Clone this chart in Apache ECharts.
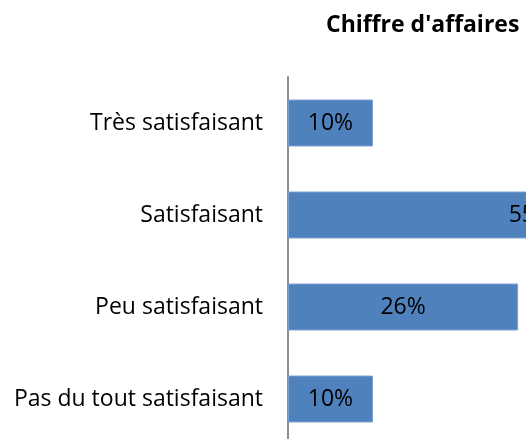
<!DOCTYPE html>
<html lang="fr">
<head>
    <meta charset="UTF-8">
    <title>Chiffre d'affaires</title>
    <script src="https://cdn.jsdelivr.net/npm/echarts@6/dist/echarts.min.js"></script>
    <style>
        html, body { margin: 0; padding: 0; background: #fff; overflow: hidden; }
        /* le graphique d'origine est plus large que la fenêtre : il est coupé à droite et en bas */
        #chart { width: 819px; height: 445px; }
    </style>
</head>
<body>
<div id="chart"></div>
<script type="text/javascript">
    // categories, du bas vers le haut (axe y de type category)
    var categories = ['Pas du tout satisfaisant', 'Peu satisfaisant', 'Satisfaisant', 'Très satisfaisant'];
    // parts en %
    var values = [9.6, 26, 55, 9.6];

    var myChart = echarts.init(document.getElementById('chart'));
    myChart.setOption({
        animation: false,
        title: {
            text: "Chiffre d'affaires",
            left: 321,
            top: 9,
            textStyle: {
                fontFamily: 'Open Sans',
                fontWeight: 'bold',
                fontSize: 23,
                color: '#000'
            }
        },
        grid: {
            left: 288,
            right: 0,
            top: 77,
            bottom: 0,
            containLabel: false
        },
        xAxis: {
            type: 'value',
            min: 0,
            max: 60,
            show: false
        },
        yAxis: {
            type: 'category',
            data: categories,
            axisLine: {lineStyle: {color: '#8c8c8c', width: 2}},
            axisTick: {show: false},
            axisLabel: {
                margin: 25,
                fontFamily: 'Open Sans',
                fontSize: 23,
                color: '#000'
            }
        },
        series: [{
            type: 'bar',
            data: values,
            barCategoryGap: '49%',
            itemStyle: {color: '#4F81BD', borderColor: '#7A9FD0', borderWidth: 1},
            label: {
                show: true,
                position: 'inside',
                fontFamily: 'Open Sans',
                fontSize: 23,
                color: '#000',
                formatter: function (p) { return Math.round(p.value) + '%'; }
            }
        }]
    });
</script>
</body>
</html>
